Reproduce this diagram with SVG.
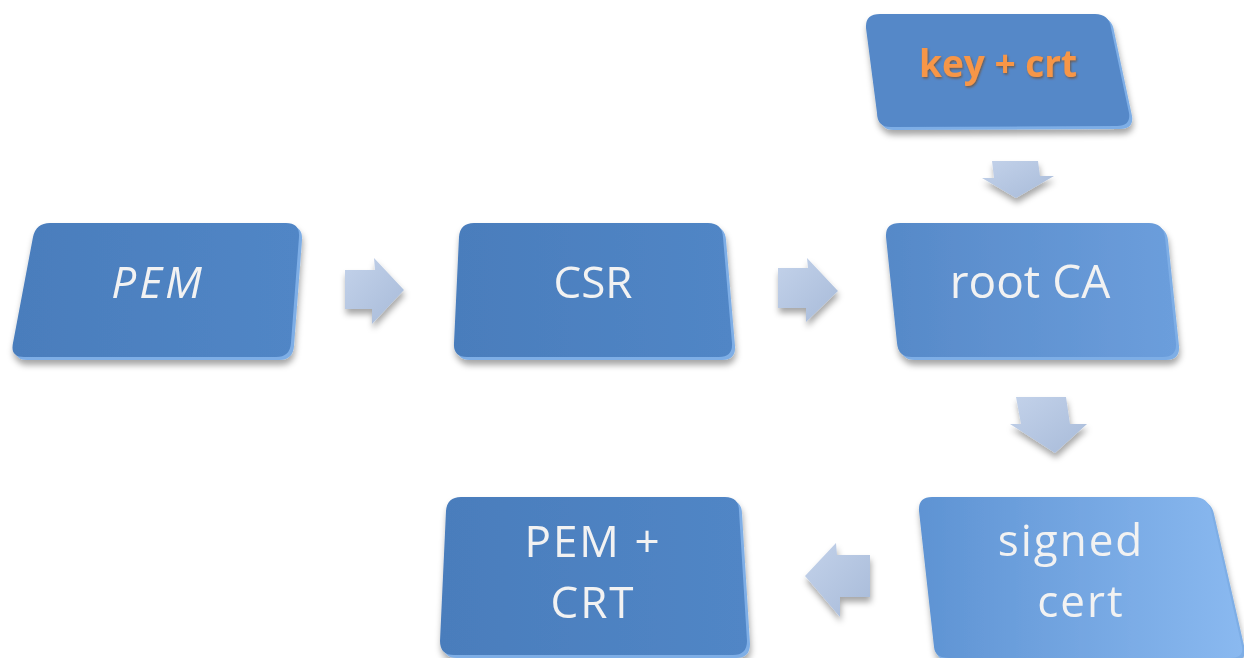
<svg xmlns="http://www.w3.org/2000/svg" width="1244" height="658" viewBox="0 0 1244 658">
<defs>
<style>
.face{stroke:none}
.bevel{fill:#7eaee6}
.lbl{font-family:"Open Sans","Liberation Sans",sans-serif;fill:#f2f2f2;text-anchor:middle}
.two{font-size:44px;letter-spacing:2px}
.key{font-family:"Open Sans","Liberation Sans",sans-serif;font-weight:bold;fill:#f79646;text-anchor:middle;filter:url(#ts)}
.arrow{fill:url(#ga);filter:url(#sh)}
</style>
<filter id="sh" x="-20%" y="-20%" width="140%" height="150%">
<feDropShadow dx="1" dy="5" stdDeviation="3" flood-color="#000" flood-opacity="0.35"/>
</filter>
<filter id="ts" x="-10%" y="-20%" width="120%" height="150%">
<feDropShadow dx="1" dy="1.5" stdDeviation="1" flood-color="#7a3c00" flood-opacity="0.6"/>
</filter>
<linearGradient id="g1" x1="0" y1="0" x2="1" y2="0"><stop offset="0" stop-color="#4a7dbc"/><stop offset="1" stop-color="#5186c6"/></linearGradient>
<linearGradient id="g2" x1="0" y1="0" x2="1" y2="0"><stop offset="0" stop-color="#5689c8"/><stop offset="1" stop-color="#6c9edc"/></linearGradient>
<linearGradient id="g3" x1="0" y1="0" x2="1" y2="0"><stop offset="0" stop-color="#5e93d3"/><stop offset="1" stop-color="#8ab9f0"/></linearGradient>
<linearGradient id="ga" x1="0" y1="0" x2="1" y2="1"><stop offset="0" stop-color="#c3d2ea"/><stop offset="1" stop-color="#a8bbd9"/></linearGradient>
</defs>

<g id="connectors">
<polygon class="arrow" points="345,270 375,270 374,258 404,290 372,324 372,309 345,309"/>
<polygon class="arrow" points="778,268 808,268 807,258 838,291 806,322 806,308 778,308"/>
<polygon class="arrow" points="992,161 1038,161 1040,176 1054,176 1016,198 982,178 994,178"/>
<polygon class="arrow" points="1016,397 1066,397 1070,424 1087,424 1055,453 1010,424 1021,424"/>
<polygon class="arrow" points="805,576 836,543 837,555 870,555 870,597 840,597 840,617"/>
</g>

<g id="node-pem" filter="url(#sh)">
<path class="bevel" d="M52,226 L289,226 Q303,226 302,240 L294,346 Q293,360 279,360 L27,360 Q13,360 16,346 L36,240 Q39,226 52,226 Z"/>
<path class="face" fill="url(#g1)" d="M50,223 L286,223 Q300,223 299,237 L291,343 Q290,357 276,357 L24,357 Q10,357 13,343 L33,237 Q36,223 50,223 Z"/>
<text class="lbl" x="158" y="298" font-size="44" font-style="italic" letter-spacing="3">PEM</text>
</g>

<g id="node-csr" filter="url(#sh)">
<path class="bevel" d="M476,226 L711,226 Q725,226 726,240 L735,346 Q736,360 722,360 L470,360 Q456,360 457,346 L462,240 Q463,226 476,226 Z"/>
<path class="face" fill="url(#g1)" d="M474,223 L708,223 Q722,223 723,237 L732,343 Q733,357 719,357 L467,357 Q453,357 454,343 L459,237 Q460,223 474,223 Z"/>
<text class="lbl" x="593" y="298" font-size="44">CSR</text>
</g>

<g id="node-rootca" filter="url(#sh)">
<path class="bevel" d="M902,226 L1152,226 Q1166,226 1168,240 L1179,346 Q1180,360 1166,360 L915,360 Q901,360 900,346 L889,240 Q888,226 902,226 Z"/>
<path class="face" fill="url(#g2)" d="M900,223 L1149,223 Q1163,223 1165,237 L1176,343 Q1177,357 1163,357 L912,357 Q898,357 897,343 L886,237 Q885,223 900,223 Z"/>
<text class="lbl" x="1030" y="298" font-size="46">root CA</text>
</g>

<g id="node-keycrt" filter="url(#sh)">
<path class="bevel" d="M882,17 L1098,17 Q1112,17 1114,31 L1132,116 Q1134,129 1120,129 L894,130 Q880,130 880,116 L869,31 Q868,17 882,17 Z"/>
<path class="face" fill="#5588c8" d="M880,14 L1095,14 Q1109,14 1111,28 L1129,113 Q1131,126 1117,126 L891,127 Q877,127 877,113 L866,28 Q865,14 880,14 Z"/>
<text class="key" x="998" y="77" font-size="37">key + crt</text>
</g>

<g id="node-signed" filter="url(#sh)">
<path class="bevel" d="M934,500 L1196,500 Q1211,500 1214,514 L1245,650 Q1246,661 1232,661 L951,661 Q937,661 936,650 L922,514 Q921,500 934,500 Z"/>
<path class="face" fill="url(#g3)" d="M932,497 L1194,497 Q1208,497 1211,511 L1242,647 Q1244,658 1230,658 L949,658 Q935,658 934,647 L919,511 Q918,497 932,497 Z"/>
<text class="lbl two" x="1071" y="556">signed</text>
<text class="lbl two" x="1081" y="617">cert</text>
</g>

<g id="node-pemcrt" filter="url(#sh)">
<path class="bevel" d="M464,500 L728,500 Q742,500 742,514 L750,644 Q750,658 736,658 L457,658 Q443,658 443,644 L449,514 Q450,500 464,500 Z"/>
<path class="face" fill="url(#g1)" d="M461,497 L725,497 Q739,497 739,511 L747,641 Q747,655 733,655 L454,655 Q440,655 440,641 L446,511 Q447,497 461,497 Z"/>
<text class="lbl two" x="593" y="557">PEM +</text>
<text class="lbl two" x="593" y="618">CRT</text>
</g>
</svg>
